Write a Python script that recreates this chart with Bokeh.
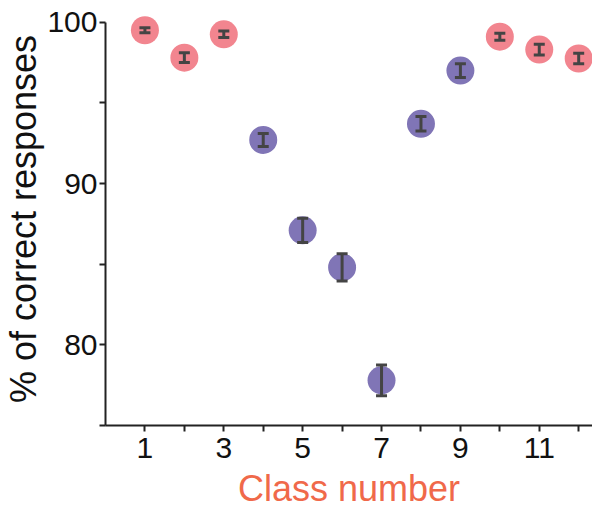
from bokeh.plotting import figure
from bokeh.models import ColumnDataSource, Whisker, TeeHead, FixedTicker
from bokeh.embed import file_html
from bokeh.resources import INLINE

classes = [1, 2, 3, 4, 5, 6, 7, 8, 9, 10, 11, 12]
percent_correct = [99.5, 97.8, 99.25, 92.7, 87.1, 84.8, 77.8, 93.7, 97.0, 99.1, 98.3, 97.75]
sem = [0.15, 0.3, 0.2, 0.4, 0.75, 0.85, 0.95, 0.45, 0.43, 0.22, 0.33, 0.33]
group = ["easy", "easy", "easy", "hard", "hard", "hard", "hard", "hard", "hard", "easy", "easy", "easy"]
x_tick_labels = {1: "1", 3: "3", 5: "5", 7: "7", 9: "9", 11: "11"}
y_tick_labels = {80: "80", 90: "90", 100: "100"}

palette = {"easy": "#F2858F", "hard": "#8075B6"}
colors = [palette[g] for g in group]

src = ColumnDataSource(dict(
    x=classes, y=percent_correct, color=colors,
    lower=[v - e for v, e in zip(percent_correct, sem)],
    upper=[v + e for v, e in zip(percent_correct, sem)],
))

p = figure(width=592, height=513, output_backend="svg", toolbar_location=None,
           x_range=(0, 12.35), y_range=(75, 100.6),
           min_border_left=103, min_border_right=0, min_border_top=12, min_border_bottom=88)
p.outline_line_color = None
p.grid.visible = False
p.background_fill_color = "white"
p.border_fill_color = "white"

p.scatter("x", "y", source=src, size=28, fill_color="color", line_color=None)
w = Whisker(source=src, base="x", lower="lower", upper="upper", level="overlay",
            line_color="#444444", line_width=3,
            upper_head=TeeHead(size=11, line_color="#444444", line_width=3),
            lower_head=TeeHead(size=11, line_color="#444444", line_width=3))
p.add_layout(w)

font = "Liberation Sans"
for ax in (p.xaxis[0], p.yaxis[0]):
    ax.axis_line_width = 2
    ax.axis_line_color = "#222222"
    ax.major_tick_line_width = 2
    ax.major_tick_line_color = "#222222"
    ax.major_tick_in = 0
    ax.major_tick_out = 6
    ax.minor_tick_line_color = None
    ax.major_label_text_font = font
    ax.major_label_text_font_size = "30px"
    ax.major_label_text_color = "#111111"
    ax.axis_label_text_font = font
    ax.axis_label_text_font_size = "36px"
    ax.axis_label_text_font_style = "normal"

p.xaxis.ticker = FixedTicker(ticks=classes)
p.xaxis.major_label_overrides = {c: x_tick_labels.get(c, "") for c in classes}
p.xaxis.bounds = (0, 12.35)
p.xaxis.axis_label = "Class number"
p.xaxis.axis_label_text_color = "#F0694A"
p.xaxis.major_label_standoff = 6
p.xaxis.axis_label_standoff = 7

yt = [75, 80, 85, 90, 95, 100]
p.yaxis.ticker = FixedTicker(ticks=yt)
p.yaxis.major_label_overrides = {t: y_tick_labels.get(t, "") for t in yt}
p.yaxis.bounds = (75, 100)
p.yaxis.axis_label = "% of correct responses"
p.yaxis.axis_label_text_color = "#111111"
p.yaxis.major_label_standoff = 2
p.yaxis.axis_label_standoff = 0

open("out.html", "w").write(file_html(p, INLINE))
